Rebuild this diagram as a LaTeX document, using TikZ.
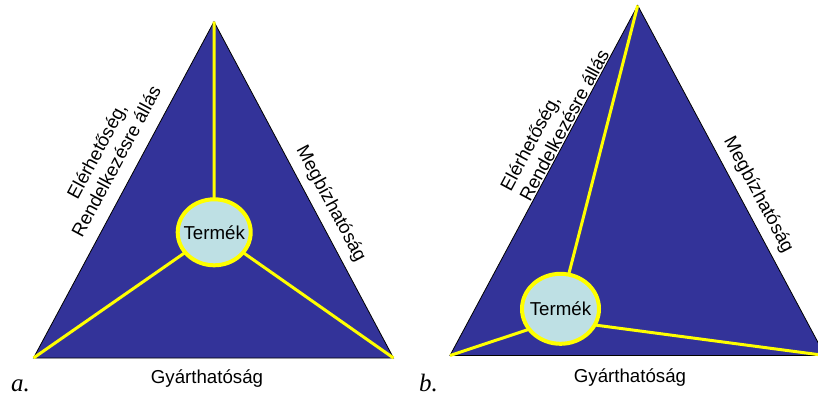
\documentclass[tikz,border=0pt]{standalone}
\usepackage{fontspec}
\setmainfont{Liberation Sans}
\newfontfamily\labserif{Liberation Serif}
\usetikzlibrary{shapes.geometric}
\definecolor{triblue}{RGB}{51,51,153}
\definecolor{prodfill}{RGB}{190,224,228}
\definecolor{ylw}{RGB}{255,255,0}
\tikzset{
  tri/.style={fill=triblue, draw=black, line width=0.8pt, line join=miter},
  spoke/.style={draw=ylw, line width=3pt},
  prod/.style={ellipse, draw=ylw, line width=4pt, fill=prodfill, inner sep=0pt, outer sep=0pt},
  lab/.style={font=\fontsize{18.7}{22}\selectfont, inner sep=0pt, text=black},
  panel/.style={font=\labserif\itshape\fontsize{25}{27}\selectfont, inner sep=0pt, anchor=base west}
}
\begin{document}
\begin{tikzpicture}[x=1pt,y=-1pt]
\useasboundingbox (0,0) rectangle (818,396);
\begin{scope}
\clip (0,0) rectangle (818,396);
% ---------- panel a ----------
\coordinate (aT) at (214,21.7);
\coordinate (aL) at (33.5,358);
\coordinate (aR) at (393.5,358);
\coordinate (aH) at (214.2,232.3);
\path[tri] (aT) -- (aL) -- (aR) -- cycle;
\draw[spoke] (aT) -- (aH);
\draw[spoke] (aL) -- (aH);
\draw[spoke] (aR) -- (aH);
\node[prod, minimum width=73pt, minimum height=66pt] (aP) at (aH) {};
\node[lab] (aPT) at (aP.center) {Termék};
\node[lab, rotate=61.8, align=center] (aLeft) at (106.2,156.2) {Elérhetőség,\\Rendelkezésre állás};
\node[lab, rotate=-61.8] (aRight) at (330.7,204) {Megbízhatóság};
\node[lab, anchor=base] (aBot) at (207,383) {Gyárthatóság};
\node[panel] (aLbl) at (11,391) {a.};
% ---------- panel b ----------
\coordinate (bT) at (637.7,5.5);
\coordinate (bL) at (450,355.5);
\coordinate (bR) at (825,355.5);
\coordinate (bH) at (557,320);
\coordinate (bC) at (560.5,308.8);
\path[tri] (bT) -- (bL) -- (bR) -- cycle;
\draw[spoke] (bT) -- (bH);
\draw[spoke] (bL) -- (bH);
\draw[spoke] (bR) -- (bH);
\node[prod, minimum width=77pt, minimum height=70pt] (bP) at (bC) {};
\node[lab] (bPT) at (bP.center) {Termék};
\node[lab, rotate=61.8, align=left] (bLeft) at (554.3,119.8) {Elérhetőség,\\Rendelkezésre állás};
\node[lab, rotate=-61.8] (bRight) at (758.3,195) {Megbízhatóság};
\node[lab, anchor=base] (bBot) at (630,382) {Gyárthatóság};
\node[panel] (bLbl) at (419,391) {b.};
\end{scope}
\end{tikzpicture}
\end{document}
